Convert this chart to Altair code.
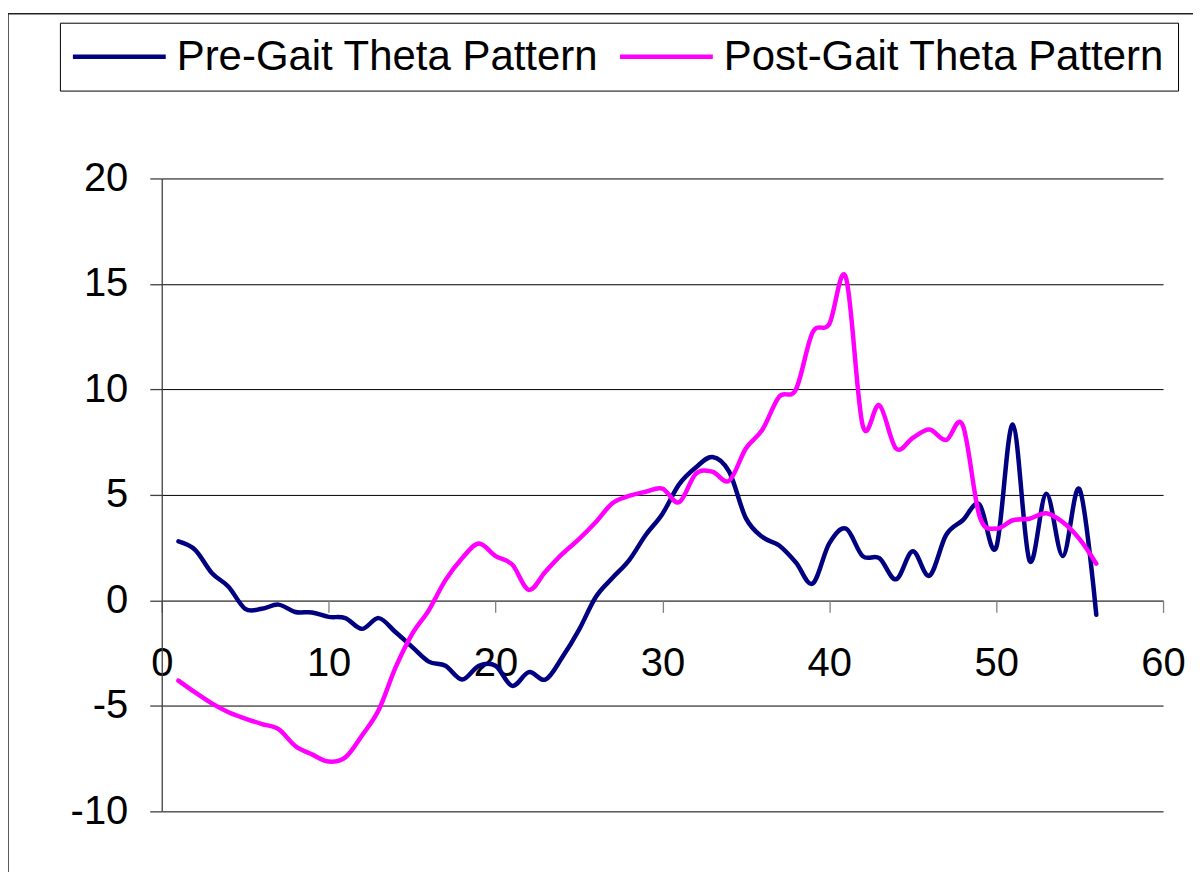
import altair as alt
import pandas as pd

PRE = "Pre-Gait Theta Pattern"
POST = "Post-Gait Theta Pattern"

x_vals = list(range(1, 57))
pre_vals = [2.8, 2.4, 1.3, 0.65, -0.4, -0.4, -0.2, -0.55, -0.57, -0.78,
            -0.84, -1.35, -0.84, -1.5, -2.2, -2.9, -3.1, -3.75, -3.1, -3.1,
            -4.05, -3.4, -3.75, -2.7, -1.4, 0.15, 1.06, 1.9, 3.1, 4.1,
            5.5, 6.3, 6.8, 6.1, 3.9, 3.0, 2.6, 1.8, 0.8, 2.7,
            3.4, 2.1, 2.0, 1.0, 2.33, 1.17, 3.1, 3.8, 4.55, 2.5,
            8.33, 1.88, 5.06, 2.1, 5.26, -0.68]
post_vals = [-3.8, -4.36, -4.88, -5.3, -5.6, -5.86, -6.1, -6.9, -7.3, -7.64,
             -7.44, -6.4, -5.2, -3.2, -1.6, -0.47, 0.96, 2.0, 2.7, 2.1,
             1.7, 0.5, 1.37, 2.2, 2.9, 3.7, 4.6, 4.95, 5.15, 5.3,
             4.65, 6.0, 6.1, 5.67, 7.2, 8.1, 9.66, 10.0, 12.7, 13.1,
             15.3, 8.3, 9.25, 7.2, 7.7, 8.1, 7.6, 8.3, 4.0, 3.4,
             3.8, 3.87, 4.13, 3.7, 2.9, 1.74]

x_ticks = [0, 10, 20, 30, 40, 50, 60]
y_ticks = [-10, -5, 0, 5, 10, 15, 20]

df = pd.DataFrame({
    "x": x_vals + x_vals,
    "value": pre_vals + post_vals,
    "series": [PRE] * len(x_vals) + [POST] * len(x_vals),
})

W = 1003
H = 634
FONT = "Liberation Sans"

frame = alt.Chart(alt.Data(values=[{}])).mark_rect(
    fillOpacity=0, stroke="#222222", strokeWidth=1.5, clip=False
).encode(
    x=alt.value(-154), x2=alt.value(W + 300),
    y=alt.value(-165), y2=alt.value(H + 300),
)

lines = alt.Chart(df).mark_line(
    strokeWidth=4.5, interpolate="cardinal", strokeCap="round", strokeJoin="round"
).encode(
    x=alt.X("x:Q", scale=alt.Scale(domain=[0, 60], nice=False, zero=False),
            axis=alt.Axis(values=x_ticks, offset=-H / 3, title=None, grid=False,
                          domainColor="#808080", domainWidth=1.3,
                          tickColor="#808080", tickWidth=1.3, tickSize=12,
                          labelFontSize=40, labelFont=FONT, labelColor="black",
                          labelPadding=31, labelFlush=False, labelOverlap=False,
                          labelExpr="'' + datum.value")),
    y=alt.Y("value:Q", scale=alt.Scale(domain=[-10, 20], nice=False, zero=False),
            axis=alt.Axis(values=y_ticks, title=None, grid=True,
                          gridColor="black", gridWidth=1,
                          domainColor="#404040", domainWidth=1.3,
                          tickColor="#404040", tickWidth=1.3, tickSize=12,
                          labelFontSize=40, labelFont=FONT, labelColor="black",
                          labelPadding=22, labelOverlap=False,
                          labelExpr="'' + datum.value")),
    color=alt.Color("series:N",
                    scale=alt.Scale(domain=[PRE, POST], range=["#000080", "#FF00FF"]),
                    legend=alt.Legend(orient="none", legendX=-102, legendY=-156,
                                      direction="horizontal", title=None,
                                      symbolType="M-1.355,0H4.645", symbolSize=961,
                                      symbolStrokeWidth=4.5, labelOffset=62,
                                      labelFontSize=42, labelFont=FONT,
                                      labelColor="black", labelLimit=0,
                                      columnPadding=11, padding=13,
                                      strokeColor="black", fillColor="white")),
)

chart = alt.layer(frame, lines).properties(
    width=W, height=H,
    autosize=alt.AutoSizeParams(type="none"),
    padding={"left": 154, "top": 170, "right": 30, "bottom": 60},
    background="white",
).configure_view(stroke="transparent")

chart.save("out.html", embed_options={"renderer": "svg", "actions": False})
